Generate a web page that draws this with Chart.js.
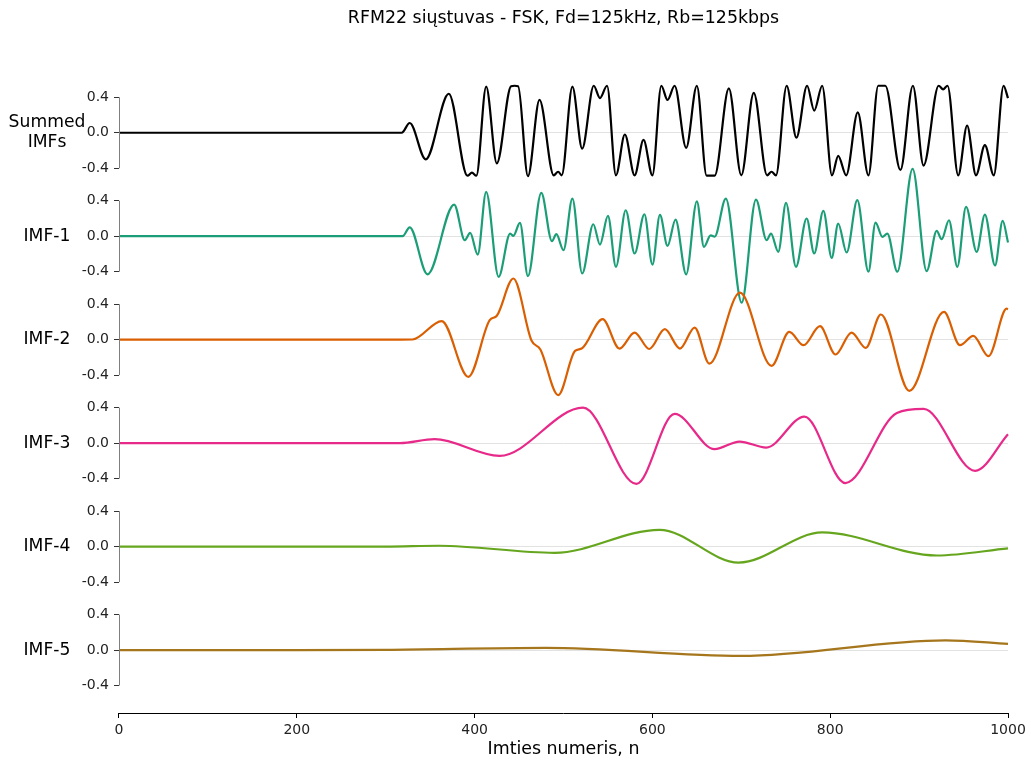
<!DOCTYPE html>
<html>
<head>
<meta charset="utf-8">
<script src="https://cdn.jsdelivr.net/npm/chart.js@4/dist/chart.umd.min.js"></script>
<style>
  html, body { margin: 0; padding: 0; background: #fff; }
  canvas { display: block; }
</style>
</head>
<body>
<canvas id="chart" width="1031" height="760"></canvas>
<script>
// values, sample index n -> amplitude
const summedX = [0, 100, 200, 300, 318, 327, 345, 371, 392, 397, 402, 413, 425, 441, 445, 449, 460, 473, 489, 494, 498, 510, 521, 534, 541, 549, 559, 569, 580, 590, 600, 610, 617, 625, 638, 650, 661, 670, 686, 700, 714, 729, 734, 739, 751, 762, 774, 782, 791, 802, 809, 818, 831, 843, 854, 862, 879, 893, 905, 922, 927, 932, 944, 954, 964, 974, 984, 995, 1000];
const summedY = [0, 0, 0, 0, 0, 0.11, -0.30, 0.44, -0.485, -0.45, -0.485, 0.52, -0.345, 0.525, 0.53, 0.525, -0.49, 0.37, -0.48, -0.44, -0.48, 0.52, -0.18, 0.53, 0.39, 0.53, -0.48, -0.02, -0.48, -0.08, -0.48, 0.53, 0.37, 0.53, -0.17, 0.53, -0.485, -0.485, 0.50, -0.48, 0.45, -0.48, -0.44, -0.48, 0.53, -0.056, 0.53, 0.25, 0.53, -0.48, -0.26, -0.48, 0.23, -0.48, 0.53, 0.53, -0.42, 0.53, -0.37, 0.53, 0.49, 0.53, -0.48, 0.08, -0.48, -0.14, -0.48, 0.53, 0.39];

const imf1X = [0, 100, 200, 300, 319, 327, 347, 377, 389, 395, 403.5, 413, 427, 440, 443.6, 451, 460, 475, 487, 492, 500, 510, 521, 533.5, 541, 550, 559, 570, 580, 591, 600, 608.5, 617, 626, 638, 650, 658, 665.5, 670, 682.6, 700.4, 716.5, 728.5, 733.4, 741.6, 750.3, 761.5, 773.5, 782, 792.3, 801.7, 809, 818.5, 830.5, 843, 851, 858.7, 864.3, 875.5, 892.7, 908.5, 919.8, 925.4, 933.6, 943, 952.8, 964.8, 974, 985.4, 994, 1000];
const imf1Y = [0, 0, 0, 0, 0, 0.10, -0.43, 0.357, -0.045, 0.037, -0.207, 0.50, -0.458, 0.03, 0.004, 0.15, -0.45, 0.49, -0.056, 0.023, -0.158, 0.425, -0.42, 0.135, -0.094, 0.229, -0.345, 0.293, -0.195, 0.248, -0.32, 0.24, -0.11, 0.188, -0.43, 0.394, -0.12, 0.01, -0.005, 0.425, -0.75, 0.413, -0.045, 0.03, -0.176, 0.375, -0.345, 0.2, -0.195, 0.285, -0.244, 0.143, -0.184, 0.406, -0.40, 0.154, -0.008, 0.03, -0.40, 0.76, -0.394, 0.06, -0.034, 0.18, -0.345, 0.33, -0.176, 0.244, -0.33, 0.172, -0.07];

const imf2X = [0, 100, 200, 300, 330, 363, 393, 417, 425, 443.6, 464, 474, 494, 513, 520.5, 544, 563, 580, 596.5, 614, 631, 647.5, 664, 698.5, 734, 754, 770, 788.5, 806, 824, 840, 857, 889, 928, 946, 961, 978, 998.5, 1000];
const imf2Y = [0, 0, 0, 0, 0.002, 0.21, -0.42, 0.22, 0.27, 0.69, -0.01, -0.11, -0.625, -0.126, -0.10, 0.231, -0.10, 0.08, -0.105, 0.118, -0.10, 0.137, -0.27, 0.53, -0.295, 0.088, -0.062, 0.152, -0.167, 0.08, -0.092, 0.284, -0.577, 0.313, -0.062, 0.043, -0.186, 0.35, 0.345];

const imf3X = [0, 100, 200, 300, 316, 355, 428, 522, 582, 625, 670, 698, 728, 771, 817, 875, 905, 963, 1000];
const imf3Y = [0, 0, 0, 0, 0, 0.045, -0.143, 0.40, -0.46, 0.33, -0.068, 0.018, -0.05, 0.30, -0.45, 0.34, 0.386, -0.312, 0.10];

const imf4X = [0, 100, 200, 300, 360, 490, 608, 697, 791, 920, 1000];
const imf4Y = [0, 0, 0, 0, 0.01, -0.07, 0.19, -0.18, 0.16, -0.10, -0.02];

const imf5X = [0, 100, 200, 300, 480, 700, 930, 1000];
const imf5Y = [0, 0, 0, 0.003, 0.025, -0.065, 0.11, 0.07];

const panelLabels = [['Summed', 'IMFs'], ['IMF-1'], ['IMF-2'], ['IMF-3'], ['IMF-4'], ['IMF-5']];
const colors = ['#000000', '#1b9e77', '#d95f02', '#e7298a', '#66a61e', '#a6761d'];
const yTicks = [0.4, 0, -0.4];
const xTicks = [0, 200, 400, 600, 800, 1000];
const title = 'RFM22 siųstuvas - FSK, Fd=125kHz, Rb=125kbps';
const xTitle = 'Imties numeris, n';

const series = [[summedX, summedY], [imf1X, imf1Y], [imf2X, imf2Y], [imf3X, imf3Y], [imf4X, imf4Y], [imf5X, imf5Y]];
const FONT = '"DejaVu Sans", sans-serif';
const half = 0.5837;

const datasets = series.map(([xs, ys], i) => ({
  data: xs.map((x, j) => ({x: x, y: ys[j]})),
  borderColor: colors[i],
  borderWidth: 2.2,
  pointRadius: 0,
  fill: false,
  cubicInterpolationMode: 'monotone',
  yAxisID: 'y' + i,
  order: 6 - i,
  clip: false
}));

let scales = {
  x: {
    type: 'linear',
    min: 0,
    max: 1000,
    afterBuildTicks: s => { s.ticks = xTicks.map(v => ({value: v})); },
    afterFit: s => { s.height = 47; },
    ticks: {font: {family: FONT, size: 14}, color: '#222', padding: 4, callback: v => String(v)},
    grid: {drawOnChartArea: false, tickLength: 5, tickColor: '#000'},
    border: {color: '#000', width: 1}
  }
};
panelLabels.forEach((_, i) => {
  scales['y' + i] = {
    type: 'linear',
    position: 'left',
    stack: 'imfs',
    stackWeight: i === 5 ? 1.108 : 1,
    weight: 6 - i,
    min: i === 5 ? -0.71 : -half,
    max: half,
    afterBuildTicks: s => { s.ticks = yTicks.map(v => ({value: v})); },
    afterFit: s => { s.width = 119; },
    ticks: {
      font: {family: FONT, size: 14},
      color: '#222',
      padding: 5,
      callback: v => v.toFixed(1)
    },
    grid: {
      color: c => (c.tick && c.tick.value === 0) ? '#e2e2e2' : 'rgba(0,0,0,0)',
      tickColor: '#333',
      tickLength: 5
    },
    border: {display: false}
  };
});

// labels, title and the short left spines
const decor = {
  id: 'decor',
  afterDraw(chart) {
    const ctx = chart.ctx;
    const area = chart.chartArea;
    ctx.save();
    ctx.strokeStyle = '#7f7f7f';
    ctx.lineWidth = 1;
    panelLabels.forEach((lines, i) => {
      const s = chart.scales['y' + i];
      const x = Math.round(area.left) + 0.5;
      ctx.beginPath();
      ctx.moveTo(x, s.getPixelForValue(0.4));
      ctx.lineTo(x, s.getPixelForValue(-0.4));
      ctx.stroke();

      const y0 = s.getPixelForValue(0);
      ctx.fillStyle = '#000';
      ctx.font = '17.2px ' + FONT;
      ctx.textAlign = 'center';
      ctx.textBaseline = 'middle';
      lines.forEach((t, k) => {
        ctx.fillText(t, 47, y0 + (k - (lines.length - 1) / 2) * 20);
      });
    });
    const cx = (area.left + area.right) / 2;
    ctx.font = '17.4px ' + FONT;
    ctx.fillText(title, cx, 18);
    ctx.fillText(xTitle, cx, 749);
    ctx.restore();
  }
};

new Chart(document.getElementById('chart'), {
  type: 'line',
  data: {datasets: datasets},
  options: {
    responsive: false,
    animation: false,
    layout: {padding: {top: 81, right: 23, bottom: 0, left: 0}},
    plugins: {legend: {display: false}, tooltip: {enabled: false}, title: {display: false}},
    scales: scales
  },
  plugins: [decor]
});
</script>
</body>
</html>
